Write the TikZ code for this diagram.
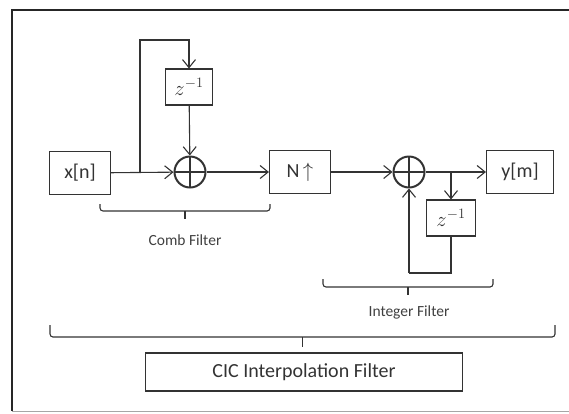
\documentclass[tikz,border=0pt]{standalone}
\usepackage{fontspec}
\setmainfont{Carlito}
\usetikzlibrary{arrows.meta}
\tikzset{
  blk/.style   = {draw=black!80, line width=1.1pt, minimum width=#1, minimum height=43pt,
                  inner sep=0pt, text=black!80, font=\fontsize{20}{24}\selectfont},
  zblk/.style  = {blk=#1, minimum height=36pt, font=\fontsize{21}{24}\selectfont},
  adder/.style = {draw=black!80, circle, line width=2pt, minimum size=31pt, inner sep=0pt,
                  path picture={\draw[black!80, line width=2pt]
                    (path picture bounding box.north) -- (path picture bounding box.south)
                    (path picture bounding box.west) -- (path picture bounding box.east);}},
  wire/.style  = {line width=1.1pt, black!80},
  sig/.style   = {wire, -{Straight Barb[length=8pt, width=13pt, line width=1.1pt]}},
  brc/.style   = {wire, rounded corners=3pt},
  brlab/.style = {text=black!75, font=\fontsize{15.5}{18}\selectfont},
}
% flat bracket: left x, right x, end y, bar y, tip y
\newcommand{\flatbrace}[5]{%
  \draw[brc] (#1,#3) -- (#1,#4) -- (#2,#4) -- (#2,#3);
  \draw[brc] ({(#1+#2)/2},#4) -- ({(#1+#2)/2},#5);}

\begin{document}
\begin{tikzpicture}[x=1pt, y=-1pt]
\useasboundingbox (0,0) rectangle (569,413);
% frame
\draw[black!85, line width=2pt] (569,10) -- (12,10) -- (12,411);
\draw[black!35, line width=1pt] (12,411) -- (569,411);

% blocks
\node[blk=61pt]  (xin)   at (80,173)  {x[n]};
\node[zblk=47pt] (zcomb) at (189,87)  {$z^{-1}$};
\node[adder]     (addc)  at (190,172) {};
\node[blk=61pt]  (upN)   at (300,172) {N\,$\uparrow$};
\node[adder]     (addi)  at (409,172) {};
\node[blk=67pt]  (yout)  at (520,172) {y[m]};
\node[zblk=49pt] (zint)  at (451,218) {$z^{-1}$};
\node[blk=317pt, minimum height=38pt] (cic) at (304,372) {CIC Interpolation Filter};

\coordinate (bc) at (140,172);
\coordinate (bi) at (451,172);
\coordinate (fb) at (409,273);

% comb section
\draw[sig] (xin) -- (addc);
\draw[sig] (bc) |- (189,40) -- (zcomb);
\draw[sig] (zcomb) -- (addc);
\draw[sig] (addc) -- (upN);

% integrator section
\draw[sig] (upN) -- (addi);
\draw[sig] (addi) -- (yout);
\draw[sig] (bi) -- (zint);
\draw[wire] (zint) |- (fb);
\draw[sig] (fb) -- (addi);

% braces
\flatbrace{100}{270}{204}{211}{219}
\node[brlab] (lcomb) at (185,240) {Comb Filter};
\flatbrace{323}{493}{279}{287}{295}
\node[brlab] (lint) at (409,312) {Integer Filter};
\flatbrace{50}{555}{325}{337}{347}
\end{tikzpicture}
\end{document}
